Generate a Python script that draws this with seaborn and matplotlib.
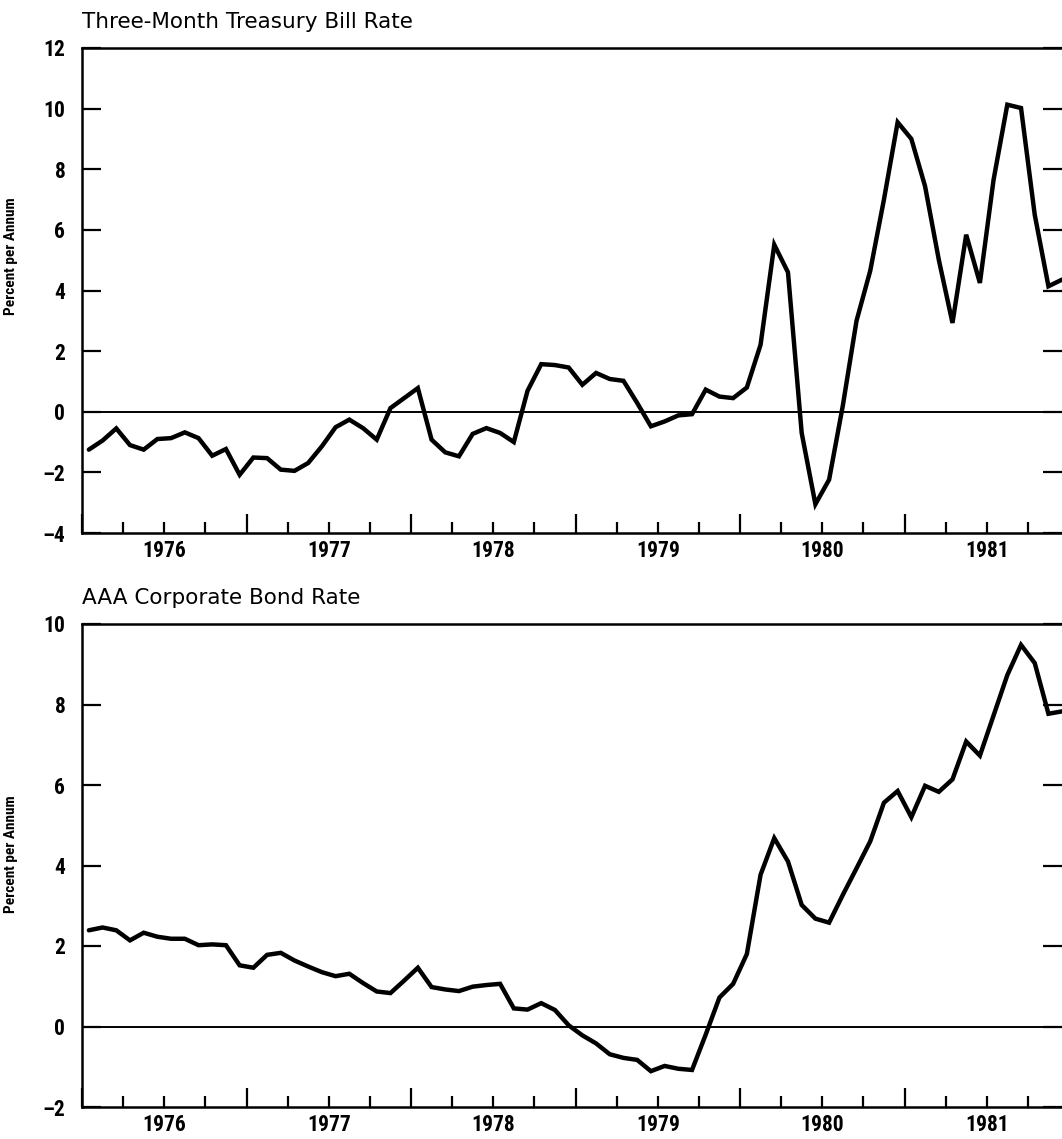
import numpy as np
import pandas as pd
import matplotlib
matplotlib.use("Agg")
import matplotlib.pyplot as plt
import seaborn as sns

# ---------------- data ----------------
start_year = 1976
n_months = 72
years = [1976, 1977, 1978, 1979, 1980, 1981]
year_labels = ["1976", "1977", "1978", "1979", "1980", "1981"]

tbill = [-1.25, -0.95, -0.55, -1.10, -1.25, -0.90, -0.87, -0.68, -0.87, -1.45, -1.23, -2.08,
         -1.51, -1.53, -1.91, -1.95, -1.69, -1.14, -0.51, -0.26, -0.54, -0.92, 0.12, 0.45,
         0.78, -0.92, -1.34, -1.47, -0.73, -0.54, -0.70, -1.00, 0.69, 1.57, 1.54, 1.46,
         0.89, 1.28, 1.08, 1.02, 0.29, -0.48, -0.32, -0.12, -0.08, 0.73, 0.50, 0.45,
         0.80, 2.21, 5.51, 4.60, -0.70, -3.05, -2.24, 0.20, 3.00, 4.65, 7.00, 9.55,
         9.00, 7.44, 5.02, 2.93, 5.84, 4.25, 7.66, 10.13, 10.02, 6.50, 4.14, 4.36]

aaa = [2.39, 2.46, 2.39, 2.14, 2.33, 2.23, 2.18, 2.18, 2.02, 2.04, 2.02, 1.52,
       1.46, 1.78, 1.83, 1.64, 1.49, 1.35, 1.25, 1.31, 1.08, 0.87, 0.83, 1.14,
       1.46, 0.98, 0.92, 0.88, 0.99, 1.03, 1.06, 0.45, 0.42, 0.58, 0.41, 0.03,
       -0.22, -0.42, -0.69, -0.78, -0.83, -1.11, -0.98, -1.05, -1.08, -0.20, 0.72, 1.06,
       1.80, 3.77, 4.68, 4.10, 3.02, 2.68, 2.58, 3.27, 3.93, 4.60, 5.56, 5.85,
       5.20, 5.98, 5.83, 6.14, 7.08, 6.73, 7.73, 8.73, 9.48, 9.03, 7.77, 7.83]

titles = ["Three-Month Treasury Bill Rate", "AAA Corporate Bond Rate"]
ylabel = "Percent per Annum"
yticks_top = [-4, -2, 0, 2, 4, 6, 8, 10, 12]
yticks_bot = [-2, 0, 2, 4, 6, 8, 10]

# ---------------- styling ----------------
sns.set_theme(style="white")
plt.rcParams["font.family"] = ["Roboto Condensed", "DejaVu Sans"]
title_family = ["DejaVu Sans"]

W, H = 1062, 1139
fig = plt.figure(figsize=(W / 100, H / 100), dpi=100)

t = start_year + (np.arange(n_months) + 0.5) / 12.0
df = pd.DataFrame({"t": t, "tbill": tbill, "aaa": aaa})

left = 82 / W
width = 1 - left
x_right = start_year + (W - 82) / 164.5

panels = [
    dict(col="tbill", top=48, bottom=533, ylim=(-4, 12), yticks=yticks_top, title=titles[0], ylab_y=0.571),
    dict(col="aaa", top=624, bottom=1107, ylim=(-2, 10), yticks=yticks_bot, title=titles[1], ylab_y=0.524),
]

for p in panels:
    ax = fig.add_axes([left, 1 - p["bottom"] / H, width, (p["bottom"] - p["top"]) / H])
    sns.lineplot(data=df, x="t", y=p["col"], ax=ax, color="black", linewidth=3.2,
                 solid_joinstyle="miter")
    ax.axhline(0, color="black", linewidth=1.4, zorder=1)
    ax.set_xlim(start_year, x_right)
    ax.set_ylim(*p["ylim"])
    for s in ["left", "bottom", "top"]:
        ax.spines[s].set_visible(True)
        ax.spines[s].set_color("black")
        ax.spines[s].set_linewidth(1.8)
    ax.spines["right"].set_visible(False)

    # y ticks
    ax.set_yticks(p["yticks"])
    ax.set_yticklabels([str(v).replace("-", "\u2013") for v in p["yticks"]],
                       fontweight="bold", fontsize=15.5)
    ax.tick_params(axis="y", which="major", direction="in", length=13.5, width=1.6,
                   left=True, right=True, labelleft=True, labelright=False, pad=12,
                   colors="black")

    # x ticks: year boundaries (tall) and quarters (short)
    ax.set_xticks(years)
    ax.set_xticklabels([])
    quarters = [y + q / 4 for y in years for q in (1, 2, 3)]
    ax.set_xticks(quarters, minor=True)
    ax.tick_params(axis="x", which="major", direction="in", length=13.5, width=1.6,
                   bottom=True, top=False, colors="black")
    ax.tick_params(axis="x", which="minor", direction="in", length=8, width=1.6,
                   bottom=True, top=False, colors="black")

    sec = ax.secondary_xaxis("bottom")
    sec.set_xticks([y + 0.5 for y in years])
    sec.set_xticklabels(year_labels, fontweight="bold", fontsize=15.5)
    sec.tick_params(axis="x", length=0, pad=5, colors="black")
    sec.spines["bottom"].set_visible(False)

    ax.set_xlabel("")
    ax.set_ylabel(ylabel, fontweight="bold", fontsize=11, color="black")
    ax.yaxis.set_label_coords(-0.0653, p["ylab_y"])
    ax.set_title(p["title"], loc="left", fontsize=15.5, pad=14.4, color="black",
                 family=title_family)

fig.savefig("out.png", dpi=100, facecolor="white")
